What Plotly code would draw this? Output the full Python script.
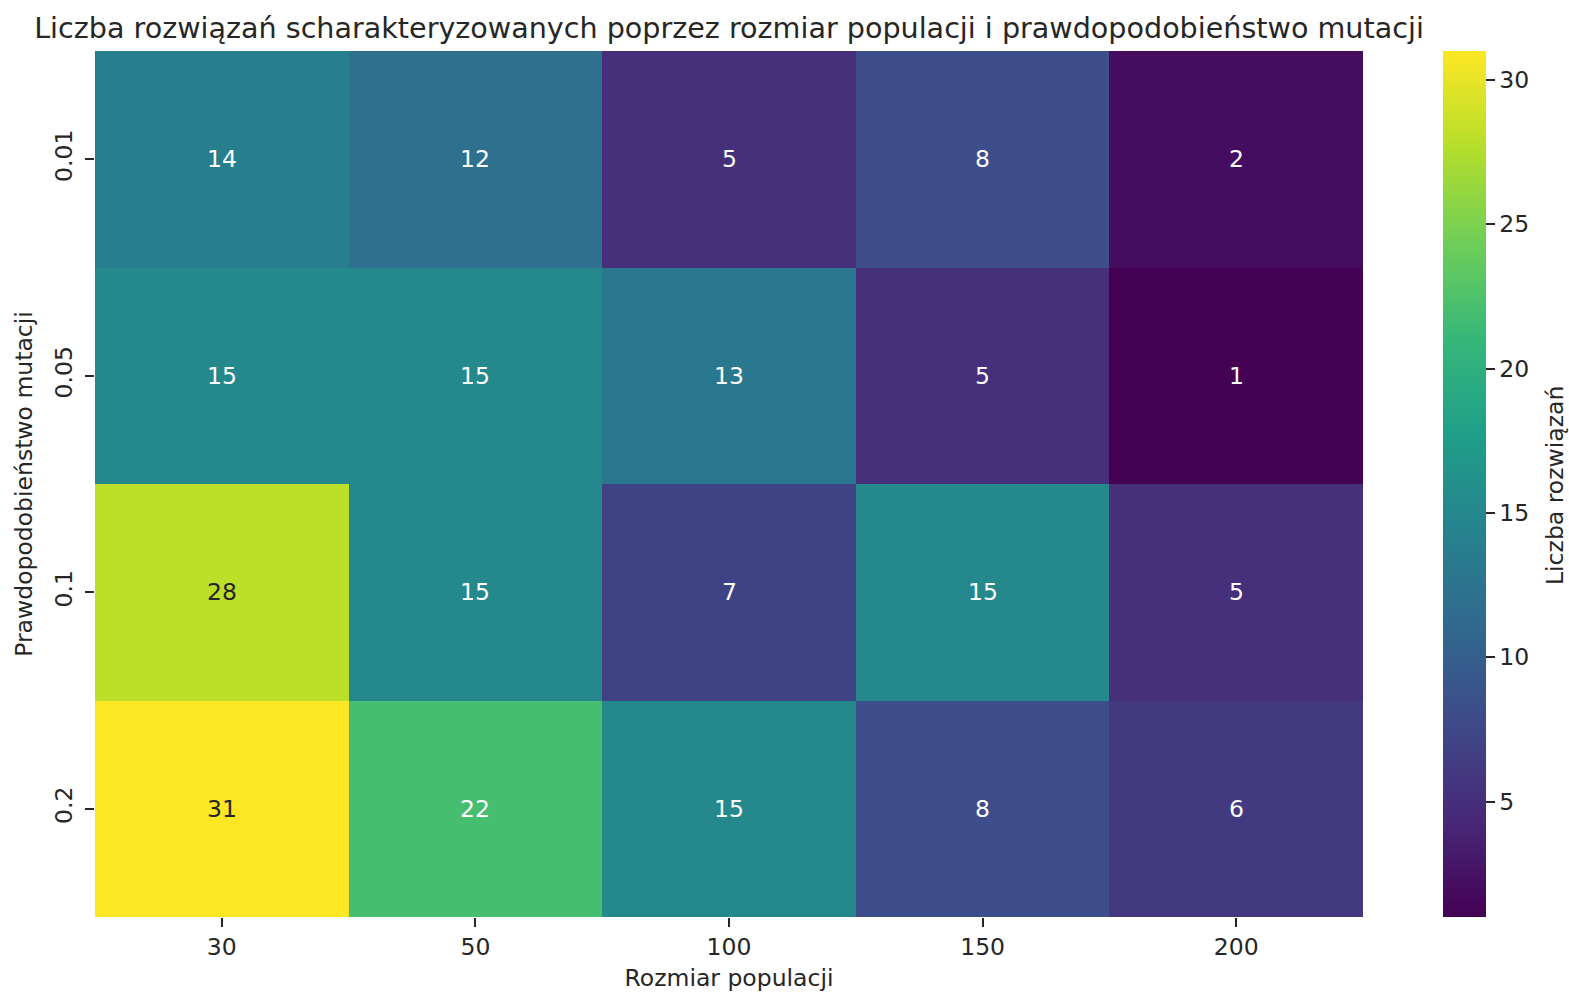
import plotly.graph_objects as go

pop_sizes = ["30", "50", "100", "150", "200"]
mut_probs = ["0.01", "0.05", "0.1", "0.2"]
counts = [
    [14, 12, 5, 8, 2],
    [15, 15, 13, 5, 1],
    [28, 15, 7, 15, 5],
    [31, 22, 15, 8, 6],
]
cbar_ticks = [5, 10, 15, 20, 25, 30]

FONT = "DejaVu Sans"
TXT = "#262626"
FS = 23.5

W, H = 1569, 992
L, T = 95, 51
plot_right, plot_bottom = 1363, 917
R, B = W - plot_right, H - plot_bottom
plot_w = plot_right - L
plot_h = plot_bottom - T

def px_x(x):  # page px -> paper coord
    return (x - L) / plot_w

def px_y(y):
    return (plot_bottom - y) / plot_h

fig = go.Figure()
fig.add_trace(go.Heatmap(
    z=counts, x=pop_sizes, y=mut_probs,
    colorscale="Viridis", zmin=1, zmax=31,
    xgap=0, ygap=0,
    colorbar=dict(
        x=px_x(1443), xref="paper", xanchor="left", xpad=0,
        thickness=43, len=1, lenmode="fraction", y=0.5, yanchor="middle", ypad=0,
        tickvals=cbar_ticks, ticks="outside", ticklen=9, tickwidth=1.5, tickcolor=TXT,
        tickprefix="\u2009\u2009",
        tickfont=dict(size=FS, color=TXT, family=FONT),
        outlinewidth=0,
    ),
    hoverinfo="skip",
))

annotations = []
for i in range(len(mut_probs)):
    for j in range(len(pop_sizes)):
        v = counts[i][j]
        col = TXT if v >= 25 else "white"
        annotations.append(dict(x=j, y=i, xref="x", yref="y", text=str(v), showarrow=False,
                                font=dict(size=FS, color=col, family=FONT)))

# colorbar title
annotations.append(dict(x=px_x(1555), y=px_y(486), xref="paper", yref="paper", text="Liczba rozwiązań",
                        textangle=-90, showarrow=False, xanchor="center", yanchor="middle",
                        font=dict(size=FS, color=TXT, family=FONT)))

fig.update_layout(
    width=W, height=H,
    margin=dict(l=L, r=R, t=T, b=B, autoexpand=False),
    paper_bgcolor="white", plot_bgcolor="white",
    font=dict(family=FONT, color=TXT),
    title=dict(text="Liczba rozwiązań scharakteryzowanych poprzez rozmiar populacji i prawdopodobieństwo mutacji",
               x=0.5, xref="paper", xanchor="center", y=1 - 28 / H, yref="container", yanchor="middle",
               font=dict(size=28.6, color=TXT, family=FONT)),
    annotations=annotations,
)
fig.update_xaxes(type="category", title=dict(text="Rozmiar populacji", font=dict(size=FS), standoff=12),
                 ticks="outside", ticklen=9, tickwidth=1.5, tickcolor=TXT, tickfont=dict(size=FS, color=TXT),
                 tickangle=0, showgrid=False, zeroline=False, showline=False, automargin=False)
fig.update_yaxes(type="category", autorange="reversed",
                 title=dict(text="Prawdopodobieństwo mutacji", font=dict(size=FS), standoff=10),
                 ticks="outside", ticklen=9, tickwidth=1.5, tickcolor=TXT, tickangle=-90, tickfont=dict(size=FS, color=TXT),
                 ticklabelstandoff=4,
                 showgrid=False, zeroline=False, showline=False, automargin=False)

fig.write_html("out.html", config={"displayModeBar": False},
               post_script="document.body.style.margin='0';document.body.style.overflow='hidden';")
